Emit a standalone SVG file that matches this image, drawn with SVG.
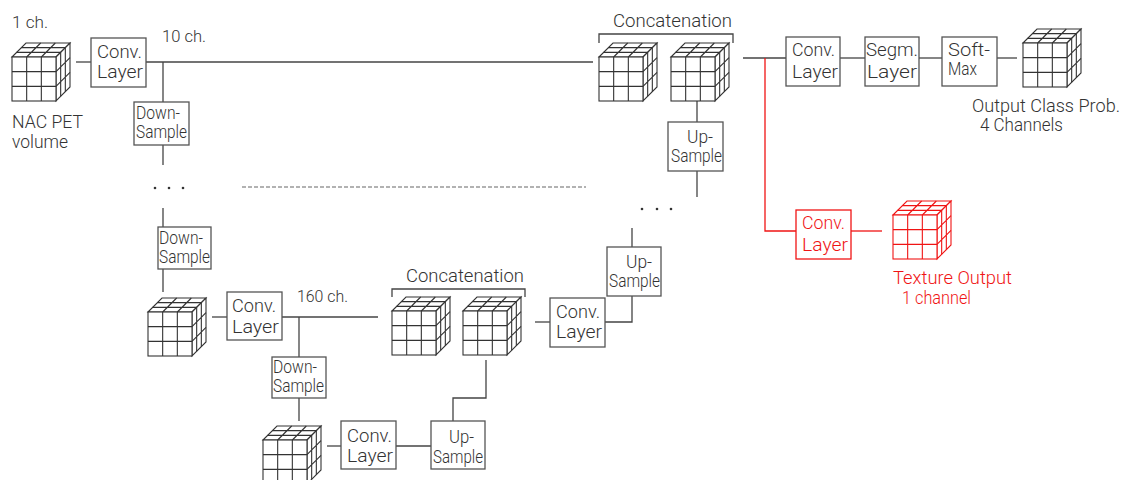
<svg xmlns="http://www.w3.org/2000/svg" width="1121" height="480" viewBox="0 0 1121 480">
  <style>
    text { font-family: Roboto, "Liberation Sans", sans-serif; font-weight: 300; font-size: 18px; fill: #333; }
    .sm { font-size: 16px; }
    .red text, text.red { fill: #f01414; }
    .box { fill: #fff; stroke: #555; stroke-width: 1.3; }
    .red .box { stroke: #f01414; }
    .cube { fill: #fff; stroke: #333; stroke-width: 1.1; }
    .cube.red { stroke: #f01414; }
    #connectors path { fill: none; stroke: #444; stroke-width: 1.3; }
    #connectors path.red { stroke: #f01414; }
    #connectors path.dash { stroke: #999; stroke-width: 1.5; stroke-dasharray: 4 2; }
    .dot { fill: #333; }
  </style>
  <defs>
    <!-- 3x3x3 voxel cube, front face top-left at origin -->
    <g id="cube">
      <path d="M0,0 L14,-14 H58 L44,0 Z"/>
      <path d="M44,0 L58,-14 V30 L44,44 Z"/>
      <rect x="0" y="0" width="44" height="44"/>
      <path fill="none" d="M14.67,0 V44 M29.33,0 V44 M0,14.67 H44 M0,29.33 H44
        M14.67,0 l14,-14 M29.33,0 l14,-14 M4.67,-4.67 H48.67 M9.33,-9.33 H53.33
        M44,14.67 l14,-14 M44,29.33 l14,-14 M48.67,-4.67 V39.33 M53.33,-9.33 V34.67"/>
    </g>
  </defs>

  <!-- connectors -->
  <g id="connectors">
    <path d="M76,62 H91"/>
    <path d="M146,62 H593"/>
    <path d="M163,62 V102"/>
    <path d="M163,145 V165"/>
    <path d="M163,208 V227"/>
    <path d="M163,269 V292"/>
    <path d="M212,317 H227"/>
    <path d="M282,317 H378"/>
    <path d="M299,317 V357"/>
    <path d="M299,398 V421"/>
    <path d="M327,446 H341"/>
    <path d="M396,446 H431"/>
    <path d="M453,421 V398 H486 V360"/>
    <path d="M535,322 H550"/>
    <path d="M605,322 H632 V296"/>
    <path d="M632,247 V228"/>
    <path d="M697,197 V171"/>
    <path d="M697,122 V100"/>
    <path d="M743,58 H786"/>
    <path d="M840,58 H865"/>
    <path d="M919,58 H942"/>
    <path d="M997,58 H1017"/>
    <path class="red" d="M765,58 V231 H796"/>
    <path class="red" d="M851,231 H882"/>
    <path class="dash" d="M242,187 H586"/>
    <path d="M599,43 V34 H733 V43"/>
    <path d="M392,297 V289 H525 V297"/>
  </g>

  <!-- ellipses between levels -->
  <g id="dots-down">
    <circle class="dot" cx="155" cy="188" r="1.3"/>
    <circle class="dot" cx="169" cy="188" r="1.3"/>
    <circle class="dot" cx="183" cy="188" r="1.3"/>
  </g>
  <g id="dots-up">
    <circle class="dot" cx="642" cy="209" r="1.3"/>
    <circle class="dot" cx="657" cy="209" r="1.3"/>
    <circle class="dot" cx="671" cy="209" r="1.3"/>
  </g>

  <!-- volumes -->
  <g id="input-volume">
    <use href="#cube" class="cube" transform="translate(12,57)"/>
    <text class="sm" x="12" y="28" textLength="36" lengthAdjust="spacingAndGlyphs">1 ch.</text>
    <text x="12" y="128" textLength="71" lengthAdjust="spacingAndGlyphs">NAC PET</text>
    <text x="12" y="148" textLength="56" lengthAdjust="spacingAndGlyphs">volume</text>
  </g>
  <g id="concat-top">
    <use href="#cube" class="cube" transform="translate(599,57)"/>
    <use href="#cube" class="cube" transform="translate(671,57)"/>
    <text x="613" y="27" textLength="119" lengthAdjust="spacingAndGlyphs">Concatenation</text>
  </g>
  <g id="level2-volume">
    <use href="#cube" class="cube" transform="translate(148,312)"/>
  </g>
  <g id="concat-bottom">
    <use href="#cube" class="cube" transform="translate(392,311)"/>
    <use href="#cube" class="cube" transform="translate(463,311)"/>
    <text x="406" y="282" textLength="118" lengthAdjust="spacingAndGlyphs">Concatenation</text>
  </g>
  <g id="bottom-volume">
    <use href="#cube" class="cube" transform="translate(263,440)"/>
  </g>
  <g id="output-class">
    <use href="#cube" class="cube" transform="translate(1023,43)"/>
    <text x="972" y="112" textLength="148" lengthAdjust="spacingAndGlyphs">Output Class Prob.</text>
    <text x="980" y="131" textLength="83" lengthAdjust="spacingAndGlyphs">4 Channels</text>
  </g>
  <g id="texture-output" class="red">
    <use href="#cube" class="cube red" transform="translate(893,215)"/>
    <text x="893" y="284" textLength="119" lengthAdjust="spacingAndGlyphs">Texture Output</text>
    <text x="902" y="304" textLength="69" lengthAdjust="spacingAndGlyphs">1 channel</text>
  </g>

  <!-- channel labels -->
  <text class="sm" x="162" y="42" textLength="44" lengthAdjust="spacingAndGlyphs">10 ch.</text>
  <text class="sm" x="297" y="302" textLength="51" lengthAdjust="spacingAndGlyphs">160 ch.</text>

  <!-- layer boxes -->
  <g id="conv1">
    <rect class="box" x="91" y="38" width="55" height="49"/>
    <text x="97" y="58" textLength="45" lengthAdjust="spacingAndGlyphs">Conv.</text>
    <text x="97" y="78" textLength="46" lengthAdjust="spacingAndGlyphs">Layer</text>
  </g>
  <g id="down1">
    <rect class="box" x="134" y="102" width="55" height="43"/>
    <text x="136" y="119" textLength="44" lengthAdjust="spacingAndGlyphs">Down-</text>
    <text x="136" y="138" textLength="51" lengthAdjust="spacingAndGlyphs">Sample</text>
  </g>
  <g id="down2">
    <rect class="box" x="158" y="227" width="53" height="42"/>
    <text x="159" y="244" textLength="44" lengthAdjust="spacingAndGlyphs">Down-</text>
    <text x="159" y="263" textLength="51" lengthAdjust="spacingAndGlyphs">Sample</text>
  </g>
  <g id="conv2">
    <rect class="box" x="227" y="292" width="55" height="48"/>
    <text x="232" y="312" textLength="44" lengthAdjust="spacingAndGlyphs">Conv.</text>
    <text x="232" y="333" textLength="47" lengthAdjust="spacingAndGlyphs">Layer</text>
  </g>
  <g id="down3">
    <rect class="box" x="272" y="357" width="54" height="41"/>
    <text x="273" y="373" textLength="44" lengthAdjust="spacingAndGlyphs">Down-</text>
    <text x="273" y="392" textLength="51" lengthAdjust="spacingAndGlyphs">Sample</text>
  </g>
  <g id="conv4">
    <rect class="box" x="341" y="421" width="55" height="48"/>
    <text x="347" y="442" textLength="45" lengthAdjust="spacingAndGlyphs">Conv.</text>
    <text x="347" y="462" textLength="46" lengthAdjust="spacingAndGlyphs">Layer</text>
  </g>
  <g id="up4">
    <rect class="box" x="431" y="421" width="54" height="48"/>
    <text x="449" y="443" textLength="25" lengthAdjust="spacingAndGlyphs">Up-</text>
    <text x="433" y="463" textLength="50" lengthAdjust="spacingAndGlyphs">Sample</text>
  </g>
  <g id="conv3">
    <rect class="box" x="550" y="298" width="55" height="49"/>
    <text x="556" y="318" textLength="44" lengthAdjust="spacingAndGlyphs">Conv.</text>
    <text x="556" y="338" textLength="46" lengthAdjust="spacingAndGlyphs">Layer</text>
  </g>
  <g id="up-bottom">
    <rect class="box" x="607" y="247" width="54" height="49"/>
    <text x="626" y="268" textLength="26" lengthAdjust="spacingAndGlyphs">Up-</text>
    <text x="609" y="287" textLength="51" lengthAdjust="spacingAndGlyphs">Sample</text>
  </g>
  <g id="up-top">
    <rect class="box" x="668" y="122" width="55" height="49"/>
    <text x="687" y="143" textLength="26" lengthAdjust="spacingAndGlyphs">Up-</text>
    <text x="671" y="162" textLength="51" lengthAdjust="spacingAndGlyphs">Sample</text>
  </g>
  <g id="conv-out">
    <rect class="box" x="786" y="37" width="54" height="49"/>
    <text x="792" y="56" textLength="43" lengthAdjust="spacingAndGlyphs">Conv.</text>
    <text x="792" y="78" textLength="46" lengthAdjust="spacingAndGlyphs">Layer</text>
  </g>
  <g id="segm">
    <rect class="box" x="865" y="37" width="54" height="49"/>
    <text x="866" y="56" textLength="52" lengthAdjust="spacingAndGlyphs">Segm.</text>
    <text x="867" y="78" textLength="50" lengthAdjust="spacingAndGlyphs">Layer</text>
  </g>
  <g id="softmax">
    <rect class="box" x="942" y="37" width="55" height="49"/>
    <text x="948" y="56" textLength="42" lengthAdjust="spacingAndGlyphs">Soft-</text>
    <text x="948" y="75" textLength="29" lengthAdjust="spacingAndGlyphs">Max</text>
  </g>
  <g id="conv-texture" class="red">
    <rect class="box" x="796" y="210" width="55" height="49"/>
    <text x="802" y="229" textLength="43" lengthAdjust="spacingAndGlyphs">Conv.</text>
    <text x="802" y="251" textLength="46" lengthAdjust="spacingAndGlyphs">Layer</text>
  </g>
</svg>
